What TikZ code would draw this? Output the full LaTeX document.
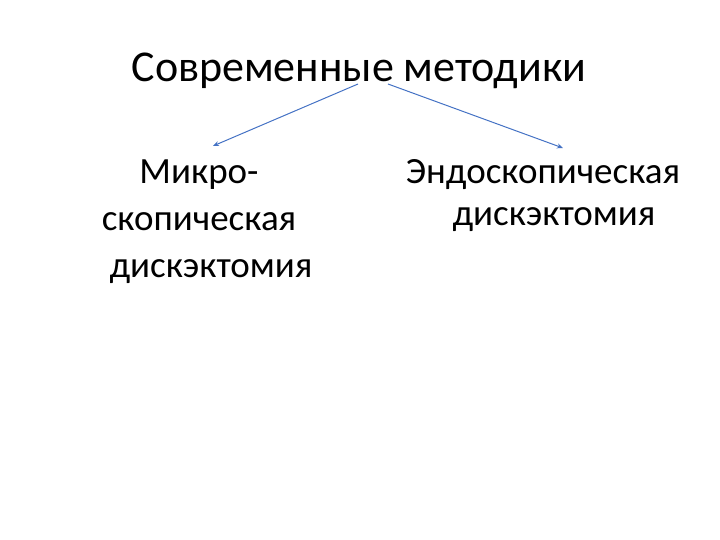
\documentclass[tikz,border=0pt]{standalone}
\usepackage{fontspec}
\setmainfont{Carlito}
\usetikzlibrary{arrows.meta}

\definecolor{linkblue}{RGB}{68,114,196}

\begin{document}
\begin{tikzpicture}[x=0.5pt, y=-0.5pt]
  \tikzstyle{title}=[inner sep=0pt, font=\fontsize{22}{26}\selectfont]
  \tikzstyle{method}=[inner sep=0pt, align=center]
  \tikzstyle{link}=[draw=linkblue, line width=0.5pt, -{Stealth[length=3pt, width=2.5pt]}]

  \useasboundingbox (0,0) rectangle (720,540);

  \node[title, anchor=base]  (methods) at (359, 82)  {Современные методики};
  \node[method, anchor=north, font=\fontsize{18.5}{23.5}\selectfont] (micro) at (199, 159)
    {Микро-\\скопическая\\\hspace*{12pt}дискэктомия};
  \node[method, anchor=north, font=\fontsize{18.5}{21}\selectfont] (endo) at (543, 159)
    {Эндоскопическая\\\hspace*{11pt}дискэктомия};

  \path[link] ([xshift=-0.5pt, yshift=-1pt]methods.base) -- ([xshift=7pt, yshift=6.5pt]micro.north);
  \path[link] ([xshift=14.5pt, yshift=-1pt]methods.base) -- ([xshift=10pt, yshift=5.5pt]endo.north);
\end{tikzpicture}
\end{document}
